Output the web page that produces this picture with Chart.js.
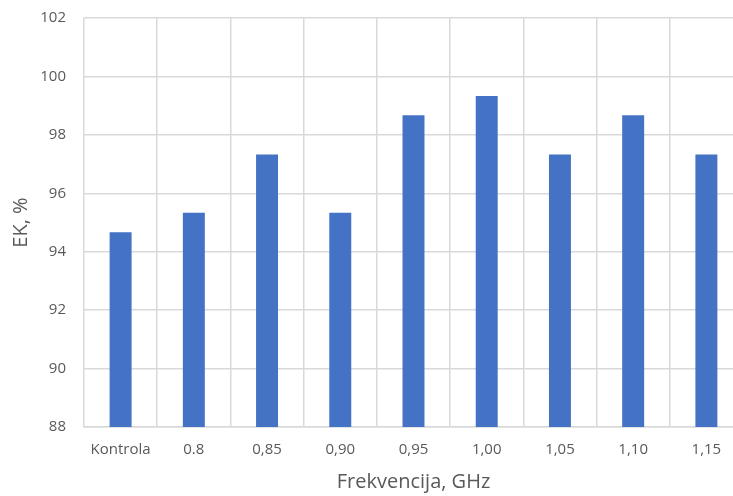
<!DOCTYPE html>
<html>
<head>
<meta charset="utf-8">
<script src="https://cdn.jsdelivr.net/npm/chart.js@4.4.1/dist/chart.umd.min.js"></script>
<style>
html,body{margin:0;padding:0;background:#fff;overflow:hidden;}
#wrap{width:745px;height:496px;position:relative;}
</style>
</head>
<body>
<div id="wrap"><canvas id="c"></canvas></div>
<script>
const categories = ["Kontrola","0.8","0,85","0,90","0,95","1,00","1,05","1,10","1,15"];
const values = [94.67, 95.33, 97.33, 95.33, 98.67, 99.33, 97.33, 98.67, 97.33];
const yMin = 88, yMax = 102, yStep = 2;
const xTitle = "Frekvencija, GHz";
const yTitle = "EK, %";

const font = "'Open Sans', 'Liberation Sans', sans-serif";
new Chart(document.getElementById('c'), {
  type: 'bar',
  data: {
    labels: categories,
    datasets: [{
      data: values,
      backgroundColor: '#4472C4',
      borderWidth: 0,
      categoryPercentage: 1,
      barPercentage: 0.3
    }]
  },
  options: {
    responsive: true,
    maintainAspectRatio: false,
    animation: false,
    layout: { padding: { left: 0, right: 2, top: 18, bottom: 0 } },
    plugins: { legend: { display: false }, tooltip: { enabled: false } },
    scales: {
      x: {
        grid: { color: '#d9d9d9', lineWidth: 1.5, offset: true, drawTicks: false },
        border: { color: '#d9d9d9', width: 1.5 },
        ticks: { color: '#595959', font: { family: font, size: 15 }, padding: 14, maxRotation: 0 },
        title: { display: true, text: xTitle, color: '#595959', font: { family: font, size: 20 }, padding: { top: 4, bottom: 2 } },
        afterFit: s => { s.height = 69; }
      },
      y: {
        min: yMin, max: yMax,
        grid: { color: '#d9d9d9', lineWidth: 1.5, drawTicks: false },
        border: { display: false },
        ticks: { stepSize: yStep, color: '#595959', font: { family: font, size: 15 }, padding: 18 },
        title: { display: true, text: yTitle, color: '#595959', font: { family: font, size: 20 }, padding: { top: 9, bottom: 0 } },
        afterFit: s => { s.width = 84; s.paddingTop = 0; s.paddingBottom = 0; }
      }
    }
  }
});
</script>
</body>
</html>
